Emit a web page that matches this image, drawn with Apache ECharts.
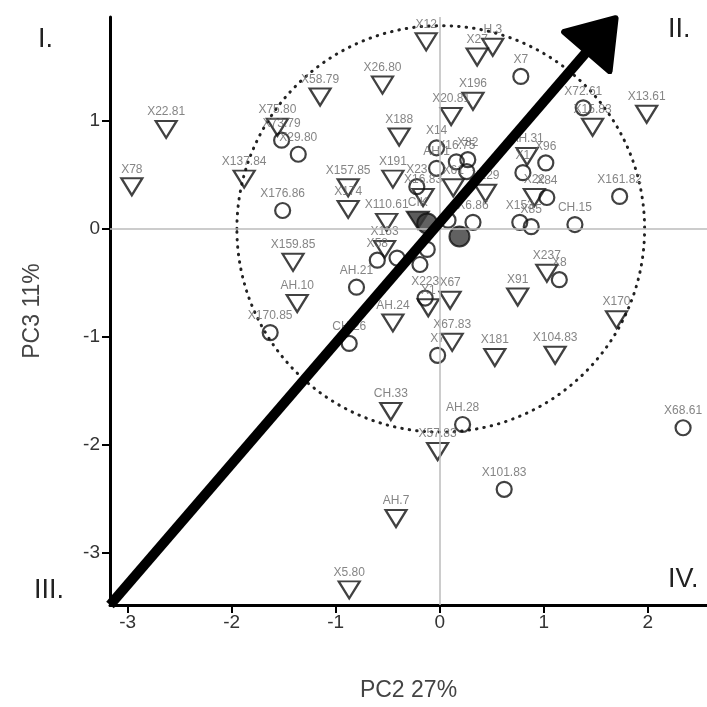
<!DOCTYPE html>
<html>
<head>
<meta charset="utf-8">
<script src="https://cdn.jsdelivr.net/npm/echarts@6/dist/echarts.min.js"></script>
<style>html,body{margin:0;padding:0;background:#fff}#c{width:707px;height:707px}</style>
</head>
<body>
<div id="c"></div>
<script>
// ---- data ----
const tickValues = [-3, -2, -1, 0, 1, 2];

const triLabels = ['X22.81','X78','X58.79','X75.80','X137.84','X26.80','X12','X27','H.3','X196','X20.81','X188','X191','X157.85','X174','X110.61','X16.83','X61','X129','AH.31','X22','X15.83','X13.61','X159.85','AH.10','X153','X1','X67','AH.24','X91','X237','X67.83','X181','X104.83','X170','CH.33','X57.83','AH.7','X5.80'];
const triX = [-2.63,-2.96,-1.15,-1.56,-1.88,-0.55,-0.13,0.36,0.51,0.32,0.11,-0.39,-0.45,-0.88,-0.88,-0.51,-0.16,0.13,0.44,0.84,0.91,1.47,1.99,-1.41,-1.37,-0.53,-0.11,0.10,-0.45,0.75,1.03,0.12,0.53,1.11,1.70,-0.47,-0.02,-0.42,-0.87];
const triY = [0.92,0.39,1.22,0.94,0.46,1.33,1.73,1.59,1.68,1.18,1.04,0.85,0.46,0.38,0.18,0.06,0.29,0.38,0.33,0.67,0.29,0.94,1.06,-0.31,-0.69,-0.19,-0.73,-0.66,-0.87,-0.63,-0.41,-1.05,-1.19,-1.17,-0.84,-1.69,-2.06,-2.68,-3.34];

const circLabels = ['X73.79','X29.80','X176.86','X7','X72.61','X14','AH.1','X16.75','X82','','X23','X1','X96','X84','X153','X85','CH.15','X161.82','X6.86','','X58','','','','X223','AH.21','X170.85','CH.26','X7','AH.28','X101.83','X68.61','X8'];
const circX = [-1.52,-1.36,-1.51,0.78,1.38,-0.03,-0.03,0.16,0.27,0.26,-0.22,0.80,1.02,1.03,0.77,0.88,1.30,1.73,0.32,0.08,-0.60,-0.41,-0.19,-0.12,-0.14,-0.80,-1.63,-0.87,-0.02,0.22,0.62,2.34,1.15];
const circY = [0.82,0.69,0.17,1.41,1.12,0.75,0.56,0.62,0.64,0.53,0.39,0.52,0.61,0.29,0.06,0.02,0.04,0.30,0.06,0.08,-0.29,-0.27,-0.33,-0.19,-0.64,-0.54,-0.96,-1.06,-1.17,-1.81,-2.41,-1.84,-0.47];

const filledCircLabels = ['', ''];
const filledCircX = [0.19, -0.12];
const filledCircY = [-0.07, 0.05];
const filledTriLabels = ['CIK'];
const filledTriX = [-0.21];
const filledTriY = [0.08];

// dotted circle: centre x, centre y, radius x, radius y
const ellipseData = [[0.01, 0.0, 1.96, 1.88]];
// arrow: from (x0,y0) to tip (x1,y1)
const arrowData = [[-3.17, -3.48, 1.71, 1.97]];

const quadrantLabels = ['I.', 'II.', 'III.', 'IV.'];
const xName = 'PC2 27%';
const yName = 'PC3 11%';

// ---- build ----
const zip = (xs, ys, ls) => xs.map((x, i) => [x, ys[i], ls[i]]);
const narrow = "'Liberation Sans Narrow','Liberation Sans',Arial,sans-serif";
const sans = "'Liberation Sans',Arial,sans-serif";

const pointLabel = {
  show: true, position: 'top', distance: 2,
  formatter: p => p.data[2], fontSize: 12, color: '#666', fontFamily: sans
};

const chart = echarts.init(document.getElementById('c'), null, {renderer: 'canvas'});
chart.setOption({
  animation: false,
  backgroundColor: '#fff',
  grid: {left: 110, right: 0, top: 17, bottom: 102},
  xAxis: {
    type: 'value', min: -3.17, max: 2.57,
    axisLine: {show: true, onZero: false, lineStyle: {color: '#000', width: 3}},
    axisTick: {show: true, customValues: tickValues, length: 8, lineStyle: {color: '#000', width: 2}},
    axisLabel: {customValues: tickValues, fontSize: 19, color: '#333', margin: 8, fontFamily: narrow},
    splitLine: {show: false},
    name: xName, nameLocation: 'middle', nameGap: 74,
    nameTextStyle: {fontSize: 23, color: '#444', fontFamily: narrow}
  },
  yAxis: {
    type: 'value', min: -3.48, max: 1.96,
    axisLine: {show: true, onZero: false, lineStyle: {color: '#000', width: 3}},
    axisTick: {show: true, customValues: tickValues, length: 8, lineStyle: {color: '#000', width: 2}},
    axisLabel: {customValues: tickValues, fontSize: 19, color: '#333', margin: 10, fontFamily: narrow},
    splitLine: {show: false},
    name: yName, nameLocation: 'middle', nameGap: 66,
    nameTextStyle: {fontSize: 23, color: '#444', fontFamily: narrow}
  },
  graphic: [
    {type: 'text', left: 38, top: 26, style: {text: quadrantLabels[0], fontSize: 27, fill: '#222', font: '27px ' + narrow}},
    {type: 'text', left: 668, top: 16, style: {text: quadrantLabels[1], fontSize: 27, fill: '#222', font: '27px ' + narrow}},
    {type: 'text', left: 34, top: 577, style: {text: quadrantLabels[2], fontSize: 27, fill: '#222', font: '27px ' + narrow}},
    {type: 'text', left: 668, top: 566, style: {text: quadrantLabels[3], fontSize: 27, fill: '#222', font: '27px ' + narrow}}
  ],
  series: [
    {
      type: 'custom', z: 1, silent: true,
      data: ellipseData,
      renderItem: (params, api) => {
        const c = api.coord([api.value(0), api.value(1)]);
        const e = api.coord([api.value(0) + api.value(2), api.value(1) + api.value(3)]);
        return {
          type: 'ellipse',
          shape: {cx: c[0], cy: c[1], rx: Math.abs(e[0] - c[0]), ry: Math.abs(e[1] - c[1])},
          style: {fill: 'none', stroke: '#222', lineWidth: 3, lineDash: [0.5, 7], lineCap: 'round'}
        };
      },
      markLine: {
        silent: true, symbol: ['none', 'none'], label: {show: false},
        lineStyle: {color: '#bbb', width: 1.5, type: 'solid'},
        data: [{xAxis: 0}, {yAxis: 0}]
      }
    },
    {
      type: 'scatter', z: 3, symbol: 'triangle', symbolRotate: 180, symbolSize: [21, 17],
      itemStyle: {color: 'rgba(0,0,0,0)', borderColor: '#111', borderWidth: 2.2},
      label: pointLabel,
      data: zip(triX, triY, triLabels)
    },
    {
      type: 'scatter', z: 3, symbol: 'circle', symbolSize: 15,
      itemStyle: {color: 'rgba(0,0,0,0)', borderColor: '#111', borderWidth: 2.2},
      label: pointLabel,
      data: zip(circX, circY, circLabels)
    },
    {
      type: 'scatter', z: 3, symbol: 'triangle', symbolRotate: 180, symbolSize: [22, 17],
      itemStyle: {color: '#333', borderColor: '#111', borderWidth: 2},
      label: pointLabel,
      data: zip(filledTriX, filledTriY, filledTriLabels)
    },
    {
      type: 'scatter', z: 3, symbol: 'circle', symbolSize: 20,
      itemStyle: {color: '#3a3a3a', borderColor: '#111', borderWidth: 2},
      label: pointLabel,
      data: zip(filledCircX, filledCircY, filledCircLabels)
    },
    {
      type: 'custom', z: 5, silent: true,
      data: arrowData,
      renderItem: (params, api) => {
        const p0 = api.coord([api.value(0), api.value(1)]);
        const p1 = api.coord([api.value(2), api.value(3)]);
        const dx = p1[0] - p0[0], dy = p1[1] - p0[1];
        const L = Math.hypot(dx, dy), ux = dx / L, uy = dy / L;
        const hl = 44, hw = 30;
        const tip = [p1[0] - ux * 3, p1[1] - uy * 3];
        const bx = tip[0] - ux * hl, by = tip[1] - uy * hl;
        return {
          type: 'group',
          children: [
            {type: 'line', shape: {x1: p0[0], y1: p0[1], x2: bx + ux * 6, y2: by + uy * 6},
             style: {stroke: '#000', lineWidth: 10}},
            {type: 'polygon',
             shape: {points: [tip, [bx - uy * hw, by + ux * hw], [bx + uy * hw, by - ux * hw]]},
             style: {fill: '#000', stroke: '#000', lineWidth: 6, lineJoin: 'round'}}
          ]
        };
      }
    }
  ]
});
</script>
</body>
</html>
